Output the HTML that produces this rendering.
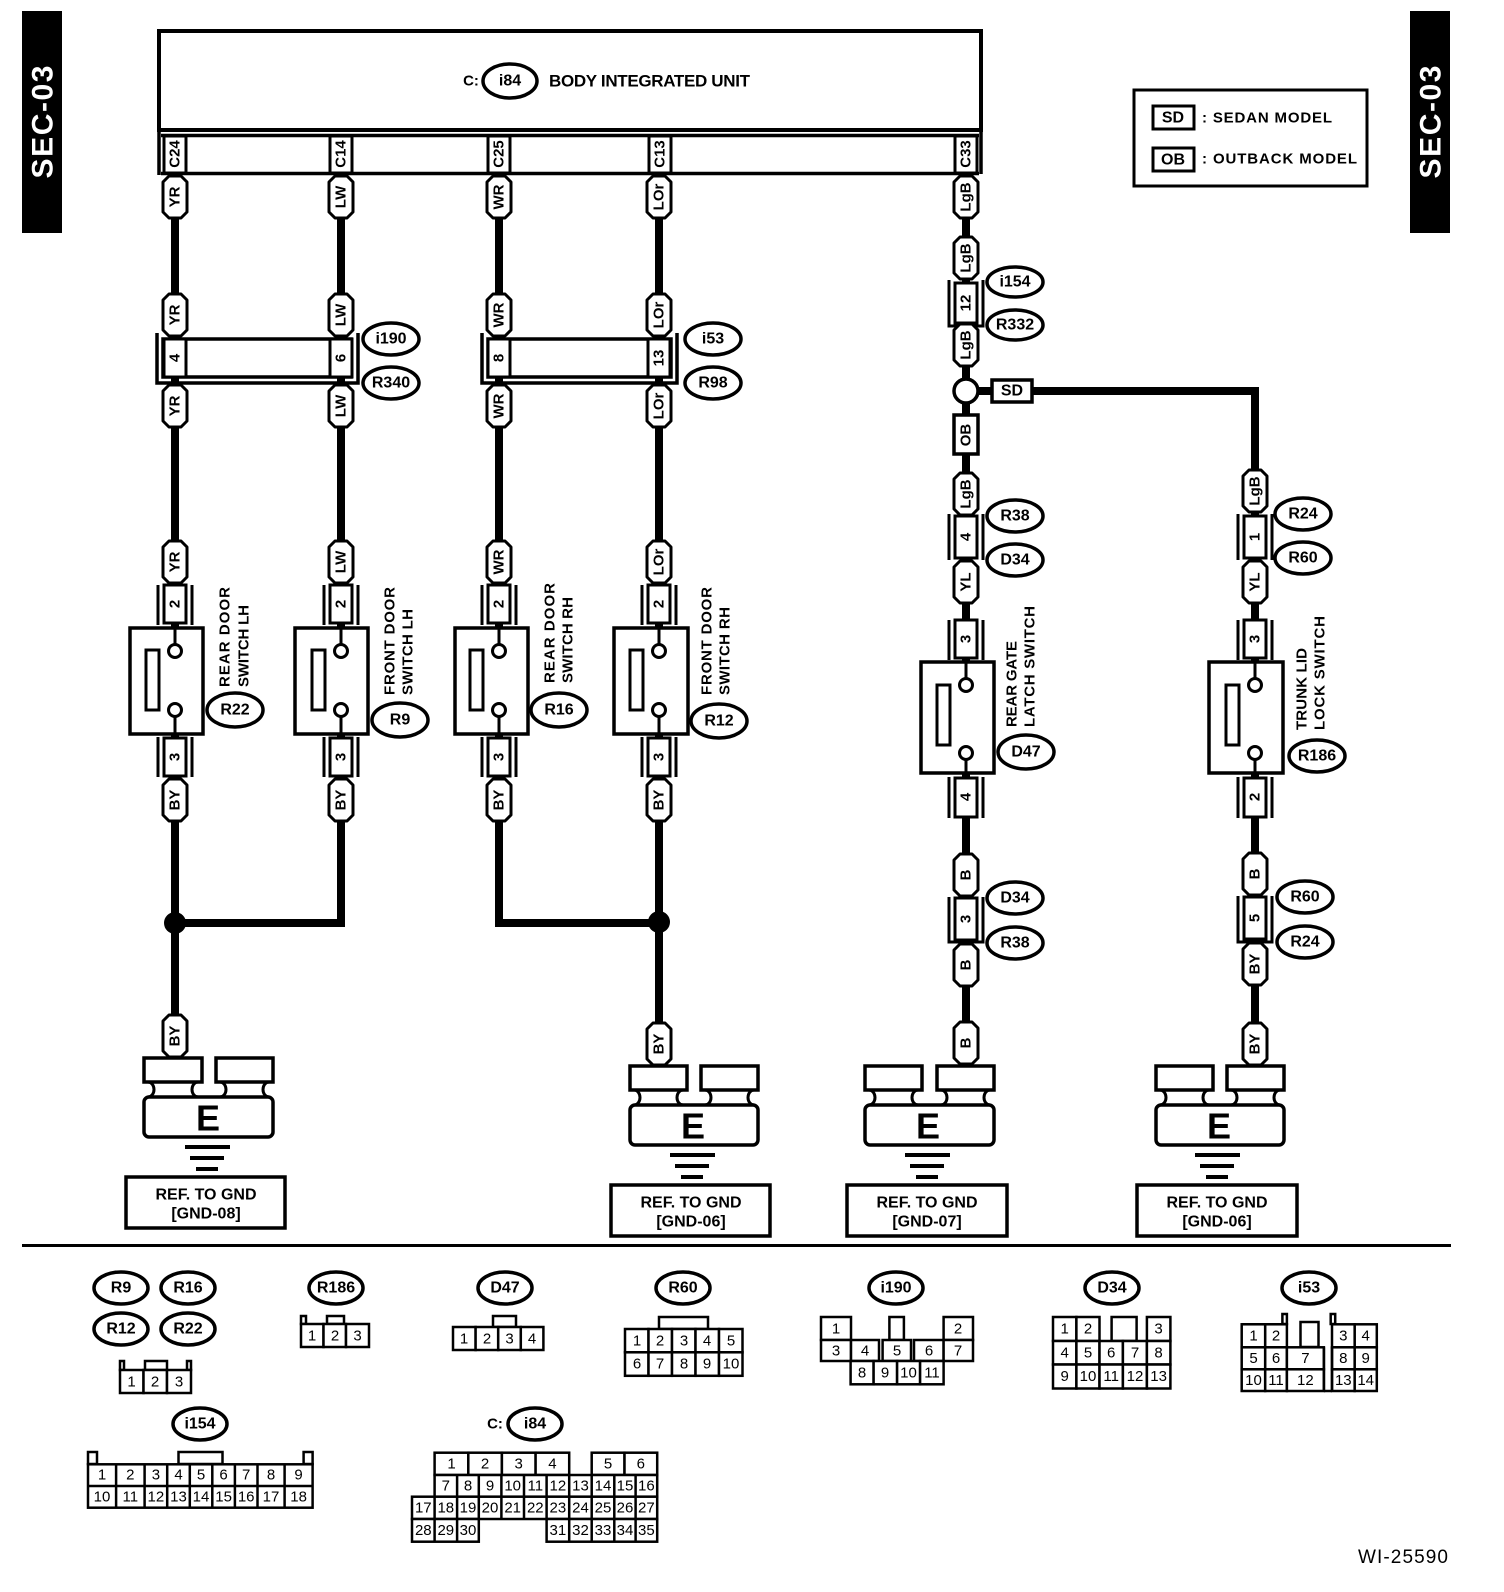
<!DOCTYPE html>
<html><head><meta charset="utf-8"><style>
html,body{margin:0;padding:0;background:#fff}
svg{display:block}
text{font-family:"Liberation Sans",Arial,sans-serif;fill:#000}
.w{font-weight:bold;font-size:15px;text-anchor:middle;dominant-baseline:central}
.l{font-weight:bold;font-size:16px;text-anchor:middle;dominant-baseline:central}
.s{font-weight:bold;font-size:15px;dominant-baseline:central}
.n{font-size:15px;text-anchor:middle;dominant-baseline:central}
.p{fill:#fff;stroke:#000;stroke-width:3;stroke-linejoin:round}
.r{fill:#fff;stroke:#000;stroke-width:3}
.b{fill:none;stroke:#000;stroke-width:3}
.e{fill:#fff;stroke:#000;stroke-width:3.5}
.wire{fill:none;stroke:#000;stroke-width:8}
.c{fill:#fff;stroke:#000;stroke-width:2.5}
</style></head><body>
<svg width="1504" height="1592" viewBox="0 0 1504 1592" xmlns="http://www.w3.org/2000/svg">
<defs>
<path id="pl" d="M-12-15L-6-21H6L12-15V15L6 21H-6L-12 15Z"/>
</defs>
<rect x="22" y="11" width="40" height="222" fill="#000"/>
<text transform="translate(43,122) rotate(-90)" style="font-weight:bold;font-size:30px;fill:#fff;text-anchor:middle;dominant-baseline:central" textLength="113">SEC-03</text>
<rect x="1410" y="11" width="40" height="222" fill="#000"/>
<text transform="translate(1431,122) rotate(-90)" style="font-weight:bold;font-size:30px;fill:#fff;text-anchor:middle;dominant-baseline:central" textLength="113">SEC-03</text>

<rect x="1134" y="90" width="233" height="96" fill="#fff" stroke="#000" stroke-width="3"/>
<rect x="1153" y="106" width="41" height="23" fill="#fff" stroke="#000" stroke-width="3"/>
<text x="1173" y="118" class="l">SD</text>
<text x="1202" y="118" class="s" style="font-size:15px" textLength="130">: SEDAN MODEL</text>
<rect x="1153" y="148" width="41" height="23" fill="#fff" stroke="#000" stroke-width="3"/>
<text x="1173" y="160" class="l">OB</text>
<text x="1202" y="159" class="s" style="font-size:15px" textLength="155">: OUTBACK MODEL</text>

<path class="wire" d="M175 175V1058M341 175V923H175M499 175V923H659M659 175V1066M966 175V1066M966 391H1255V1066"/>

<rect x="159" y="31" width="822" height="99" fill="#fff" stroke="#000" stroke-width="4"/>
<text x="471" y="81" class="l" style="font-size:15px">C:</text>
<ellipse cx="510" cy="81" rx="27" ry="17" class="e"/>
<text x="510" y="81" class="l">i84</text>
<text x="549" y="81" class="s" style="font-size:17px" textLength="201">BODY INTEGRATED UNIT</text>
<path class="b" d="M159 130V175M981 130V174M161 135.5H979M161 173.5H979" style="stroke-width:3.5"/>
<g transform="translate(175,154)"><rect class="r" x="-11" y="-18" width="22" height="37"/><text class="w" transform="rotate(-90)">C24</text></g>
<g transform="translate(341,154)"><rect class="r" x="-11" y="-18" width="22" height="37"/><text class="w" transform="rotate(-90)">C14</text></g>
<g transform="translate(499,154)"><rect class="r" x="-11" y="-18" width="22" height="37"/><text class="w" transform="rotate(-90)">C25</text></g>
<g transform="translate(660,154)"><rect class="r" x="-11" y="-18" width="22" height="37"/><text class="w" transform="rotate(-90)">C13</text></g>
<g transform="translate(966,154)"><rect class="r" x="-11" y="-18" width="22" height="37"/><text class="w" transform="rotate(-90)">C33</text></g>

<g transform="translate(175,197)"><use href="#pl" class="p"/><text class="w" transform="rotate(-90)">YR</text></g>
<g transform="translate(341,197)"><use href="#pl" class="p"/><text class="w" transform="rotate(-90)">LW</text></g>
<g transform="translate(499,197)"><use href="#pl" class="p"/><text class="w" transform="rotate(-90)">WR</text></g>
<g transform="translate(659,197)"><use href="#pl" class="p"/><text class="w" transform="rotate(-90)">LOr</text></g>
<g transform="translate(966,197)"><use href="#pl" class="p"/><text class="w" transform="rotate(-90)">LgB</text></g>

<g transform="translate(175,315)"><use href="#pl" class="p"/><text class="w" transform="rotate(-90)">YR</text></g>
<g transform="translate(341,315)"><use href="#pl" class="p"/><text class="w" transform="rotate(-90)">LW</text></g>
<g transform="translate(499,315)"><use href="#pl" class="p"/><text class="w" transform="rotate(-90)">WR</text></g>
<g transform="translate(659,315)"><use href="#pl" class="p"/><text class="w" transform="rotate(-90)">LOr</text></g>

<path class="b" d="M157 333V383H358V333" style="stroke-width:3.5"/>
<rect class="r" x="163" y="339" width="188" height="38" style="stroke-width:3.5"/>
<g transform="translate(175,358)"><rect class="r" x="-11" y="-19" width="22" height="38"/><text class="w" transform="rotate(-90)">4</text></g>
<g transform="translate(341,358)"><rect class="r" x="-11" y="-19" width="22" height="38"/><text class="w" transform="rotate(-90)">6</text></g>
<path class="b" d="M482 333V383H677V333" style="stroke-width:3.5"/>
<rect class="r" x="488" y="339" width="183" height="38" style="stroke-width:3.5"/>
<g transform="translate(499,358)"><rect class="r" x="-11" y="-19" width="22" height="38"/><text class="w" transform="rotate(-90)">8</text></g>
<g transform="translate(659,358)"><rect class="r" x="-11" y="-19" width="22" height="38"/><text class="w" transform="rotate(-90)">13</text></g>

<g transform="translate(391,339)"><ellipse class="e" rx="28" ry="16"/><text class="l">i190</text></g>
<g transform="translate(391,383)"><ellipse class="e" rx="28" ry="16"/><text class="l">R340</text></g>
<g transform="translate(713,339)"><ellipse class="e" rx="28" ry="16"/><text class="l">i53</text></g>
<g transform="translate(713,383)"><ellipse class="e" rx="28" ry="16"/><text class="l">R98</text></g>

<g transform="translate(175,406)"><use href="#pl" class="p"/><text class="w" transform="rotate(-90)">YR</text></g>
<g transform="translate(341,406)"><use href="#pl" class="p"/><text class="w" transform="rotate(-90)">LW</text></g>
<g transform="translate(499,406)"><use href="#pl" class="p"/><text class="w" transform="rotate(-90)">WR</text></g>
<g transform="translate(659,406)"><use href="#pl" class="p"/><text class="w" transform="rotate(-90)">LOr</text></g>

<g transform="translate(175,562)"><use href="#pl" class="p"/><text class="w" transform="rotate(-90)">YR</text></g>
<g transform="translate(341,562)"><use href="#pl" class="p"/><text class="w" transform="rotate(-90)">LW</text></g>
<g transform="translate(499,562)"><use href="#pl" class="p"/><text class="w" transform="rotate(-90)">WR</text></g>
<g transform="translate(659,562)"><use href="#pl" class="p"/><text class="w" transform="rotate(-90)">LOr</text></g>

<g transform="translate(175,0)">
<path class="b" d="M-17 585V625M17 585V625M-17 737V777M17 737V777"/>
<rect class="r" x="-11" y="585" width="22" height="38"/><text class="w" transform="translate(0,604) rotate(-90)">2</text>
<rect class="r" x="-45" y="628" width="73" height="106" style="stroke-width:3.5"/>
<rect class="r" x="-29" y="650" width="13" height="60"/>
<path class="b" d="M0 628V645M0 716V734"/>
<circle class="r" cx="0" cy="651" r="6.5"/><circle class="r" cx="0" cy="710" r="6.5"/>
<rect class="r" x="-11" y="738" width="22" height="38"/><text class="w" transform="translate(0,757) rotate(-90)">3</text>
</g>
<g transform="translate(341,0)">
<path class="b" d="M-17 585V625M17 585V625M-17 737V777M17 737V777"/>
<rect class="r" x="-11" y="585" width="22" height="38"/><text class="w" transform="translate(0,604) rotate(-90)">2</text>
<rect class="r" x="-46" y="628" width="73" height="106" style="stroke-width:3.5"/>
<rect class="r" x="-29" y="650" width="13" height="60"/>
<path class="b" d="M0 628V645M0 716V734"/>
<circle class="r" cx="0" cy="651" r="6.5"/><circle class="r" cx="0" cy="710" r="6.5"/>
<rect class="r" x="-11" y="738" width="22" height="38"/><text class="w" transform="translate(0,757) rotate(-90)">3</text>
</g>
<g transform="translate(499,0)">
<path class="b" d="M-17 585V625M17 585V625M-17 737V777M17 737V777"/>
<rect class="r" x="-11" y="585" width="22" height="38"/><text class="w" transform="translate(0,604) rotate(-90)">2</text>
<rect class="r" x="-44" y="628" width="73" height="106" style="stroke-width:3.5"/>
<rect class="r" x="-29" y="650" width="13" height="60"/>
<path class="b" d="M0 628V645M0 716V734"/>
<circle class="r" cx="0" cy="651" r="6.5"/><circle class="r" cx="0" cy="710" r="6.5"/>
<rect class="r" x="-11" y="738" width="22" height="38"/><text class="w" transform="translate(0,757) rotate(-90)">3</text>
</g>
<g transform="translate(659,0)">
<path class="b" d="M-17 585V625M17 585V625M-17 737V777M17 737V777"/>
<rect class="r" x="-11" y="585" width="22" height="38"/><text class="w" transform="translate(0,604) rotate(-90)">2</text>
<rect class="r" x="-45" y="628" width="74" height="106" style="stroke-width:3.5"/>
<rect class="r" x="-29" y="650" width="13" height="60"/>
<path class="b" d="M0 628V645M0 716V734"/>
<circle class="r" cx="0" cy="651" r="6.5"/><circle class="r" cx="0" cy="710" r="6.5"/>
<rect class="r" x="-11" y="738" width="22" height="38"/><text class="w" transform="translate(0,757) rotate(-90)">3</text>
</g>

<text class="s" transform="translate(225,687) rotate(-90)" textLength="100">REAR DOOR</text>
<text class="s" transform="translate(244,687) rotate(-90)" textLength="82">SWITCH LH</text>
<text class="s" transform="translate(390,695) rotate(-90)" textLength="108">FRONT DOOR</text>
<text class="s" transform="translate(408,695) rotate(-90)" textLength="86">SWITCH LH</text>
<text class="s" transform="translate(550,683) rotate(-90)" textLength="100">REAR DOOR</text>
<text class="s" transform="translate(568,683) rotate(-90)" textLength="86">SWITCH RH</text>
<text class="s" transform="translate(707,695) rotate(-90)" textLength="108">FRONT DOOR</text>
<text class="s" transform="translate(725,695) rotate(-90)" textLength="88">SWITCH RH</text>

<g transform="translate(235,710)"><ellipse class="e" rx="28" ry="17"/><text class="l">R22</text></g>
<g transform="translate(400,720)"><ellipse class="e" rx="28" ry="17"/><text class="l">R9</text></g>
<g transform="translate(559,710)"><ellipse class="e" rx="28" ry="17"/><text class="l">R16</text></g>
<g transform="translate(719,721)"><ellipse class="e" rx="28" ry="17"/><text class="l">R12</text></g>

<g transform="translate(175,800)"><use href="#pl" class="p"/><text class="w" transform="rotate(-90)">BY</text></g>
<g transform="translate(341,800)"><use href="#pl" class="p"/><text class="w" transform="rotate(-90)">BY</text></g>
<g transform="translate(499,800)"><use href="#pl" class="p"/><text class="w" transform="rotate(-90)">BY</text></g>
<g transform="translate(659,800)"><use href="#pl" class="p"/><text class="w" transform="rotate(-90)">BY</text></g>
<circle cx="175" cy="923" r="11" fill="#000"/>
<circle cx="659" cy="922" r="11" fill="#000"/>
<g transform="translate(175,1036)"><use href="#pl" class="p"/><text class="w" transform="rotate(-90)">BY</text></g>
<g transform="translate(659,1044)"><use href="#pl" class="p"/><text class="w" transform="rotate(-90)">BY</text></g>

<g transform="translate(966,258)"><use href="#pl" class="p"/><text class="w" transform="rotate(-90)">LgB</text></g>
<path class="b" d="M949 280V326H983V280"/>
<g transform="translate(966,303)"><rect class="r" x="-11" y="-20" width="22" height="40"/><text class="w" transform="rotate(-90)">12</text></g>
<g transform="translate(966,345)"><use href="#pl" class="p"/><text class="w" transform="rotate(-90)">LgB</text></g>
<g transform="translate(1015,282)"><ellipse class="e" rx="28" ry="15"/><text class="l">i154</text></g>
<g transform="translate(1015,325)"><ellipse class="e" rx="28" ry="15"/><text class="l">R332</text></g>
<circle cx="966" cy="391" r="12" fill="#fff" stroke="#000" stroke-width="3.5"/>
<rect x="992" y="380" width="40" height="22" fill="#fff" stroke="#000" stroke-width="3.5"/>
<text x="1012" y="391" class="l">SD</text>
<rect x="954" y="415" width="24" height="39" fill="#fff" stroke="#000" stroke-width="3.5"/>
<text class="w" transform="translate(966,435) rotate(-90)">OB</text>
<g transform="translate(966,494)"><use href="#pl" class="p"/><text class="w" transform="rotate(-90)">LgB</text></g>
<path class="b" d="M949 514V560M983 514V560"/>
<g transform="translate(966,537)"><rect class="r" x="-11" y="-21" width="22" height="42"/><text class="w" transform="rotate(-90)">4</text></g>
<g transform="translate(966,582)"><use href="#pl" class="p"/><text class="w" transform="rotate(-90)">YL</text></g>
<g transform="translate(1015,516)"><ellipse class="e" rx="28" ry="16"/><text class="l">R38</text></g>
<g transform="translate(1015,560)"><ellipse class="e" rx="28" ry="16"/><text class="l">D34</text></g>
<g transform="translate(966,0)">
<path class="b" d="M-17 620V660M17 620V660M-17 777V818M17 777V818"/>
<rect class="r" x="-11" y="620" width="22" height="38"/><text class="w" transform="translate(0,639) rotate(-90)">3</text>
<rect class="r" x="-45" y="662" width="73" height="111" style="stroke-width:3.5"/>
<rect class="r" x="-29" y="685" width="13" height="60"/>
<path class="b" d="M0 662V679M0 759V773"/>
<circle class="r" cx="0" cy="685" r="6.5"/><circle class="r" cx="0" cy="753" r="6.5"/>
<rect class="r" x="-11" y="778" width="22" height="39"/><text class="w" transform="translate(0,797) rotate(-90)">4</text>
</g>
<text class="s" transform="translate(1012,727) rotate(-90)" textLength="86">REAR GATE</text>
<text class="s" transform="translate(1030,727) rotate(-90)" textLength="121">LATCH SWITCH</text>
<g transform="translate(1026,752)"><ellipse class="e" rx="28" ry="17"/><text class="l">D47</text></g>
<g transform="translate(966,875)"><use href="#pl" class="p"/><text class="w" transform="rotate(-90)">B</text></g>
<path class="b" d="M949 897V942H983V897"/>
<g transform="translate(966,919)"><rect class="r" x="-11" y="-21" width="22" height="42"/><text class="w" transform="rotate(-90)">3</text></g>
<g transform="translate(966,965)"><use href="#pl" class="p"/><text class="w" transform="rotate(-90)">B</text></g>
<g transform="translate(966,1043)"><use href="#pl" class="p"/><text class="w" transform="rotate(-90)">B</text></g>
<g transform="translate(1015,898)"><ellipse class="e" rx="28" ry="16"/><text class="l">D34</text></g>
<g transform="translate(1015,943)"><ellipse class="e" rx="28" ry="16"/><text class="l">R38</text></g>

<g transform="translate(1255,491)"><use href="#pl" class="p"/><text class="w" transform="rotate(-90)">LgB</text></g>
<path class="b" d="M1238 514V560M1272 514V560"/>
<g transform="translate(1255,537)"><rect class="r" x="-11" y="-21" width="22" height="42"/><text class="w" transform="rotate(-90)">1</text></g>
<g transform="translate(1255,582)"><use href="#pl" class="p"/><text class="w" transform="rotate(-90)">YL</text></g>
<g transform="translate(1303,514)"><ellipse class="e" rx="28" ry="16"/><text class="l">R24</text></g>
<g transform="translate(1303,558)"><ellipse class="e" rx="28" ry="16"/><text class="l">R60</text></g>
<g transform="translate(1255,0)">
<path class="b" d="M-17 620V660M17 620V660M-17 777V818M17 777V818"/>
<rect class="r" x="-11" y="620" width="22" height="38"/><text class="w" transform="translate(0,639) rotate(-90)">3</text>
<rect class="r" x="-46" y="662" width="74" height="111" style="stroke-width:3.5"/>
<rect class="r" x="-29" y="685" width="13" height="60"/>
<path class="b" d="M0 662V679M0 759V773"/>
<circle class="r" cx="0" cy="685" r="6.5"/><circle class="r" cx="0" cy="753" r="6.5"/>
<rect class="r" x="-11" y="778" width="22" height="39"/><text class="w" transform="translate(0,797) rotate(-90)">2</text>
</g>
<text class="s" transform="translate(1302,730) rotate(-90)" textLength="82">TRUNK LID</text>
<text class="s" transform="translate(1320,730) rotate(-90)" textLength="114">LOCK SWITCH</text>
<g transform="translate(1317,756)"><ellipse class="e" rx="28" ry="16"/><text class="l">R186</text></g>
<g transform="translate(1255,874)"><use href="#pl" class="p"/><text class="w" transform="rotate(-90)">B</text></g>
<path class="b" d="M1238 896V942H1272V896"/>
<g transform="translate(1255,918)"><rect class="r" x="-11" y="-21" width="22" height="42"/><text class="w" transform="rotate(-90)">5</text></g>
<g transform="translate(1255,964)"><use href="#pl" class="p"/><text class="w" transform="rotate(-90)">BY</text></g>
<g transform="translate(1255,1044)"><use href="#pl" class="p"/><text class="w" transform="rotate(-90)">BY</text></g>
<g transform="translate(1305,897)"><ellipse class="e" rx="28" ry="16"/><text class="l">R60</text></g>
<g transform="translate(1305,942)"><ellipse class="e" rx="28" ry="16"/><text class="l">R24</text></g>

<g transform="translate(144,1058)">
<rect class="r" x="0" y="0" width="58" height="24" style="stroke-width:3.5"/><rect class="r" x="72" y="0" width="57" height="24" style="stroke-width:3.5"/>
<rect class="r" x="0" y="39" width="129" height="40" rx="5" style="stroke-width:3.5"/>
<path class="b" d="M4 24a6 7.5 0 0 1 0 15M54 24a6 7.5 0 0 0 0 15M76 24a6 7.5 0 0 1 0 15M125 24a6 7.5 0 0 0 0 15M54 39H76"/>
<text x="64" y="60" class="l" style="font-size:36px">E</text>
<path d="M41 89H86M46 100H80M52 111H74" stroke="#000" stroke-width="4"/>
<rect x="-18" y="119" width="159" height="51" fill="#fff" stroke="#000" stroke-width="3.5"/>
<text x="62" y="137" class="l" textLength="101">REF. TO GND</text><text x="62" y="156" class="l">[GND-08]</text>
</g>
<g transform="translate(630,1066)">
<rect class="r" x="0" y="0" width="57" height="24" style="stroke-width:3.5"/><rect class="r" x="71" y="0" width="57" height="24" style="stroke-width:3.5"/>
<rect class="r" x="0" y="39" width="128" height="40" rx="5" style="stroke-width:3.5"/>
<path class="b" d="M4 24a6 7.5 0 0 1 0 15M53 24a6 7.5 0 0 0 0 15M75 24a6 7.5 0 0 1 0 15M124 24a6 7.5 0 0 0 0 15M53 39H75"/>
<text x="63" y="60" class="l" style="font-size:36px">E</text>
<path d="M40 89H85M45 100H79M51 111H73" stroke="#000" stroke-width="4"/>
<rect x="-19" y="119" width="159" height="51" fill="#fff" stroke="#000" stroke-width="3.5"/>
<text x="61" y="137" class="l" textLength="101">REF. TO GND</text><text x="61" y="156" class="l">[GND-06]</text>
</g>
<g transform="translate(865,1066)">
<rect class="r" x="0" y="0" width="57" height="24" style="stroke-width:3.5"/><rect class="r" x="72" y="0" width="57" height="24" style="stroke-width:3.5"/>
<rect class="r" x="0" y="39" width="129" height="40" rx="5" style="stroke-width:3.5"/>
<path class="b" d="M4 24a6 7.5 0 0 1 0 15M53 24a6 7.5 0 0 0 0 15M76 24a6 7.5 0 0 1 0 15M125 24a6 7.5 0 0 0 0 15M53 39H76"/>
<text x="63" y="60" class="l" style="font-size:36px">E</text>
<path d="M40 89H85M45 100H79M51 111H73" stroke="#000" stroke-width="4"/>
<rect x="-18" y="119" width="160" height="51" fill="#fff" stroke="#000" stroke-width="3.5"/>
<text x="62" y="137" class="l" textLength="101">REF. TO GND</text><text x="62" y="156" class="l">[GND-07]</text>
</g>
<g transform="translate(1156,1066)">
<rect class="r" x="0" y="0" width="57" height="24" style="stroke-width:3.5"/><rect class="r" x="71" y="0" width="57" height="24" style="stroke-width:3.5"/>
<rect class="r" x="0" y="39" width="128" height="40" rx="5" style="stroke-width:3.5"/>
<path class="b" d="M4 24a6 7.5 0 0 1 0 15M53 24a6 7.5 0 0 0 0 15M75 24a6 7.5 0 0 1 0 15M124 24a6 7.5 0 0 0 0 15M53 39H75"/>
<text x="63" y="60" class="l" style="font-size:36px">E</text>
<path d="M39 89H84M44 100H78M50 111H72" stroke="#000" stroke-width="4"/>
<rect x="-19" y="119" width="160" height="51" fill="#fff" stroke="#000" stroke-width="3.5"/>
<text x="61" y="137" class="l" textLength="101">REF. TO GND</text><text x="61" y="156" class="l">[GND-06]</text>
</g>

<rect x="22" y="1244" width="1429" height="3" fill="#000"/>

<g transform="translate(121,1288)"><ellipse class="e" rx="27" ry="16"/><text class="l">R9</text></g>
<g transform="translate(188,1288)"><ellipse class="e" rx="27" ry="16"/><text class="l">R16</text></g>
<g transform="translate(121,1329)"><ellipse class="e" rx="27" ry="16"/><text class="l">R12</text></g>
<g transform="translate(188,1329)"><ellipse class="e" rx="27" ry="16"/><text class="l">R22</text></g>
<g transform="translate(336,1288)"><ellipse class="e" rx="27" ry="16"/><text class="l">R186</text></g>
<g transform="translate(505,1288)"><ellipse class="e" rx="27" ry="16"/><text class="l">D47</text></g>
<g transform="translate(683,1288)"><ellipse class="e" rx="27" ry="16"/><text class="l">R60</text></g>
<g transform="translate(896,1288)"><ellipse class="e" rx="27" ry="16"/><text class="l">i190</text></g>
<g transform="translate(1112,1288)"><ellipse class="e" rx="27" ry="16"/><text class="l">D34</text></g>
<g transform="translate(1309,1288)"><ellipse class="e" rx="27" ry="16"/><text class="l">i53</text></g>
<g transform="translate(200,1424)"><ellipse class="e" rx="27" ry="16"/><text class="l">i154</text></g>
<text x="495" y="1424" class="l" style="font-size:15px">C:</text>
<g transform="translate(535,1424)"><ellipse class="e" rx="27" ry="16"/><text class="l">i84</text></g>

<rect class="c" x="120" y="1361" width="4" height="9"/><rect class="c" x="187" y="1361" width="4" height="9"/><rect class="c" x="145" y="1361" width="22" height="9"/>
<rect class="c" x="120" y="1370" width="23.5" height="23"/><rect class="c" x="143.5" y="1370" width="23.5" height="23"/><rect class="c" x="167" y="1370" width="24" height="23"/>
<text class="n" x="131.5" y="1382">1</text><text class="n" x="155" y="1382">2</text><text class="n" x="179" y="1382">3</text>
<rect class="c" x="301" y="1316" width="5" height="8"/><rect class="c" x="327" y="1316" width="17" height="8"/>
<rect class="c" x="301" y="1324" width="22.5" height="23"/><rect class="c" x="323.5" y="1324" width="22.5" height="23"/><rect class="c" x="346" y="1324" width="23" height="23"/>
<text class="n" x="312" y="1336">1</text><text class="n" x="335" y="1336">2</text><text class="n" x="357.5" y="1336">3</text>
<rect class="c" x="493" y="1316" width="23" height="11"/>
<rect class="c" x="453" y="1327" width="22.6" height="23"/><rect class="c" x="475.6" y="1327" width="22.6" height="23"/><rect class="c" x="498.2" y="1327" width="22.6" height="23"/><rect class="c" x="520.8" y="1327" width="22.6" height="23"/>
<text class="n" x="464" y="1339">1</text><text class="n" x="487" y="1339">2</text><text class="n" x="509.5" y="1339">3</text><text class="n" x="532" y="1339">4</text>
<rect class="c" x="659" y="1317" width="49" height="12"/>
<g>
<rect class="c" x="625" y="1329" width="23.5" height="23.3"/><rect class="c" x="648.5" y="1329" width="23.5" height="23.3"/><rect class="c" x="672" y="1329" width="23.5" height="23.3"/><rect class="c" x="695.5" y="1329" width="23.5" height="23.3"/><rect class="c" x="719" y="1329" width="23.5" height="23.3"/>
<rect class="c" x="625" y="1352.3" width="23.5" height="23.5"/><rect class="c" x="648.5" y="1352.3" width="23.5" height="23.5"/><rect class="c" x="672" y="1352.3" width="23.5" height="23.5"/><rect class="c" x="695.5" y="1352.3" width="23.5" height="23.5"/><rect class="c" x="719" y="1352.3" width="23.5" height="23.5"/>
</g>
<text class="n" x="637" y="1341">1</text><text class="n" x="660" y="1341">2</text><text class="n" x="684" y="1341">3</text><text class="n" x="707" y="1341">4</text><text class="n" x="731" y="1341">5</text>
<text class="n" x="637" y="1364">6</text><text class="n" x="660" y="1364">7</text><text class="n" x="684" y="1364">8</text><text class="n" x="707" y="1364">9</text><text class="n" x="731" y="1364">10</text>

<rect class="c" x="821" y="1317" width="30" height="23"/><rect class="c" x="943.6" y="1317" width="29.4" height="23"/><rect class="c" x="889.4" y="1317" width="14.5" height="23"/>
<rect class="c" x="821" y="1340" width="30" height="21"/><rect class="c" x="851" y="1340" width="28" height="21"/><rect class="c" x="882.6" y="1340" width="28.4" height="21"/><rect class="c" x="914" y="1340" width="29.6" height="21"/><rect class="c" x="943.6" y="1340" width="29.4" height="21"/>
<rect class="c" x="850.6" y="1361" width="23" height="23.3"/><rect class="c" x="873.6" y="1361" width="23.5" height="23.3"/><rect class="c" x="897.1" y="1361" width="23" height="23.3"/><rect class="c" x="920.1" y="1361" width="23.5" height="23.3"/>
<text class="n" x="836" y="1329">1</text><text class="n" x="958" y="1329">2</text>
<text class="n" x="836" y="1351">3</text><text class="n" x="865" y="1351">4</text><text class="n" x="897" y="1351">5</text><text class="n" x="929" y="1351">6</text><text class="n" x="958" y="1351">7</text>
<text class="n" x="862" y="1373">8</text><text class="n" x="885" y="1373">9</text><text class="n" x="908.5" y="1373">10</text><text class="n" x="932" y="1373">11</text>

<rect class="c" x="1053" y="1317" width="23.4" height="24"/><rect class="c" x="1076.4" y="1317" width="23.1" height="24"/><rect class="c" x="1111.6" y="1317" width="25" height="24"/><rect class="c" x="1146.9" y="1317" width="23.5" height="24"/>
<rect class="c" x="1053" y="1341" width="23.4" height="23.5"/><rect class="c" x="1076.4" y="1341" width="23.1" height="23.5"/><rect class="c" x="1099.5" y="1341" width="23.4" height="23.5"/><rect class="c" x="1122.9" y="1341" width="24" height="23.5"/><rect class="c" x="1146.9" y="1341" width="23.5" height="23.5"/>
<rect class="c" x="1053" y="1364.5" width="23.4" height="24"/><rect class="c" x="1076.4" y="1364.5" width="23.1" height="24"/><rect class="c" x="1099.5" y="1364.5" width="23.4" height="24"/><rect class="c" x="1122.9" y="1364.5" width="24" height="24"/><rect class="c" x="1146.9" y="1364.5" width="23.5" height="24"/>
<text class="n" x="1064.7" y="1329">1</text><text class="n" x="1088" y="1329">2</text><text class="n" x="1158.6" y="1329">3</text>
<text class="n" x="1064.7" y="1353">4</text><text class="n" x="1088" y="1353">5</text><text class="n" x="1111.2" y="1353">6</text><text class="n" x="1135" y="1353">7</text><text class="n" x="1158.6" y="1353">8</text>
<text class="n" x="1064.7" y="1376.5">9</text><text class="n" x="1088" y="1376.5">10</text><text class="n" x="1111.2" y="1376.5">11</text><text class="n" x="1135" y="1376.5">12</text><text class="n" x="1158.6" y="1376.5">13</text>

<rect class="c" x="1282.4" y="1314" width="4.5" height="10"/><rect class="c" x="1330.7" y="1314" width="4.5" height="10"/>
<rect class="c" x="1300.5" y="1322" width="18" height="25"/>
<rect class="c" x="1241.7" y="1324.3" width="23.5" height="23"/><rect class="c" x="1265.2" y="1324.3" width="21.7" height="23"/><rect class="c" x="1332" y="1324.3" width="22.7" height="23"/><rect class="c" x="1354.7" y="1324.3" width="22.1" height="23"/>
<rect class="c" x="1241.7" y="1347.3" width="23.5" height="22"/><rect class="c" x="1265.2" y="1347.3" width="21.7" height="22"/><rect class="c" x="1286.9" y="1347.3" width="37" height="22"/><rect class="c" x="1332" y="1347.3" width="22.7" height="22"/><rect class="c" x="1354.7" y="1347.3" width="22.1" height="22"/>
<rect class="c" x="1241.7" y="1369.3" width="23.5" height="21.7"/><rect class="c" x="1265.2" y="1369.3" width="21.7" height="21.7"/><rect class="c" x="1286.9" y="1369.3" width="37" height="21.7"/><rect class="c" x="1332" y="1369.3" width="22.7" height="21.7"/><rect class="c" x="1354.7" y="1369.3" width="22.1" height="21.7"/>
<path d="M1241.7 1324.3H1286.9M1323.9 1347.3V1391M1332 1347.3V1391M1323.9 1391H1332" class="b" style="stroke-width:2.5"/>
<text class="n" x="1253.5" y="1336">1</text><text class="n" x="1276" y="1336">2</text><text class="n" x="1343.3" y="1336">3</text><text class="n" x="1365.7" y="1336">4</text>
<text class="n" x="1253.5" y="1358.5">5</text><text class="n" x="1276" y="1358.5">6</text><text class="n" x="1305.4" y="1358.5">7</text><text class="n" x="1343.3" y="1358.5">8</text><text class="n" x="1365.7" y="1358.5">9</text>
<text class="n" x="1253.5" y="1380.3">10</text><text class="n" x="1276" y="1380.3">11</text><text class="n" x="1305.4" y="1380.3">12</text><text class="n" x="1343.3" y="1380.3">13</text><text class="n" x="1365.7" y="1380.3">14</text>

<rect class="c" x="88" y="1452" width="9" height="12"/><rect class="c" x="303.6" y="1452" width="9" height="12"/><rect class="c" x="178.5" y="1452" width="44" height="12"/>
<rect class="c" x="88" y="1464.3" width="224.6" height="43.4"/>
<path class="b" style="stroke-width:2.5" d="M88 1486H312.6M116.1 1464V1508M144.6 1464V1508M167.2 1464V1508M189.8 1464V1508M212.3 1464V1508M234.9 1464V1508M257.5 1464V1508M284.6 1464V1508"/>
<text class="n" x="102" y="1475">1</text><text class="n" x="130.3" y="1475">2</text><text class="n" x="155.9" y="1475">3</text><text class="n" x="178.5" y="1475">4</text><text class="n" x="201" y="1475">5</text><text class="n" x="223.6" y="1475">6</text><text class="n" x="246.2" y="1475">7</text><text class="n" x="271" y="1475">8</text><text class="n" x="298.6" y="1475">9</text>
<text class="n" x="102" y="1497">10</text><text class="n" x="130.3" y="1497">11</text><text class="n" x="155.9" y="1497">12</text><text class="n" x="178.5" y="1497">13</text><text class="n" x="201" y="1497">14</text><text class="n" x="223.6" y="1497">15</text><text class="n" x="246.2" y="1497">16</text><text class="n" x="271" y="1497">17</text><text class="n" x="298.6" y="1497">18</text>

<g>
<rect class="c" x="434.6" y="1452.7" width="33.7" height="22.3"/><rect class="c" x="468.3" y="1452.7" width="33.6" height="22.3"/><rect class="c" x="501.9" y="1452.7" width="33.7" height="22.3"/><rect class="c" x="535.6" y="1452.7" width="33.6" height="22.3"/>
<rect class="c" x="591.7" y="1452.7" width="32.8" height="22.3"/><rect class="c" x="624.5" y="1452.7" width="32.7" height="22.3"/>
<rect class="c" x="434.6" y="1475" width="222.6" height="21.7"/>
<rect class="c" x="412" y="1496.7" width="245.2" height="22.3"/>
<rect class="c" x="412" y="1519" width="66.8" height="22.7"/>
<rect class="c" x="546.6" y="1519" width="110.6" height="22.7"/>
<path class="b" style="stroke-width:2.5" d="M457.1 1475V1496.7M478.8 1475V1496.7M501.4 1475V1496.7M524 1475V1496.7M546.6 1475V1496.7M569.2 1475V1496.7M591.7 1475V1496.7M614.3 1475V1496.7M635.6 1475V1496.7M434.6 1496.7V1519M457.1 1496.7V1519M478.8 1496.7V1519M501.4 1496.7V1519M524 1496.7V1519M546.6 1496.7V1519M569.2 1496.7V1519M591.7 1496.7V1519M614.3 1496.7V1519M635.6 1496.7V1519M434.6 1519V1541.7M457.1 1519V1541.7M569.2 1519V1541.7M591.7 1519V1541.7M614.3 1519V1541.7M635.6 1519V1541.7"/>
</g>
<text class="n" x="451.5" y="1464">1</text><text class="n" x="485" y="1464">2</text><text class="n" x="518.7" y="1464">3</text><text class="n" x="552.4" y="1464">4</text><text class="n" x="608" y="1464">5</text><text class="n" x="640.8" y="1464">6</text>
<text class="n" x="445.8" y="1486">7</text><text class="n" x="468" y="1486">8</text><text class="n" x="490" y="1486">9</text><text class="n" x="512.7" y="1486">10</text><text class="n" x="535.3" y="1486">11</text><text class="n" x="557.9" y="1486">12</text><text class="n" x="580.5" y="1486">13</text><text class="n" x="603" y="1486">14</text><text class="n" x="625" y="1486">15</text><text class="n" x="646.4" y="1486">16</text>
<text class="n" x="423.3" y="1508">17</text><text class="n" x="445.8" y="1508">18</text><text class="n" x="468" y="1508">19</text><text class="n" x="490" y="1508">20</text><text class="n" x="512.7" y="1508">21</text><text class="n" x="535.3" y="1508">22</text><text class="n" x="557.9" y="1508">23</text><text class="n" x="580.5" y="1508">24</text><text class="n" x="603" y="1508">25</text><text class="n" x="625" y="1508">26</text><text class="n" x="646.4" y="1508">27</text>
<text class="n" x="423.3" y="1530.5">28</text><text class="n" x="445.8" y="1530.5">29</text><text class="n" x="468" y="1530.5">30</text><text class="n" x="557.9" y="1530.5">31</text><text class="n" x="580.5" y="1530.5">32</text><text class="n" x="603" y="1530.5">33</text><text class="n" x="625" y="1530.5">34</text><text class="n" x="646.4" y="1530.5">35</text>

<text x="1358" y="1563" style="font-size:19px" textLength="90">WI-25590</text>
</svg>
</body></html>
